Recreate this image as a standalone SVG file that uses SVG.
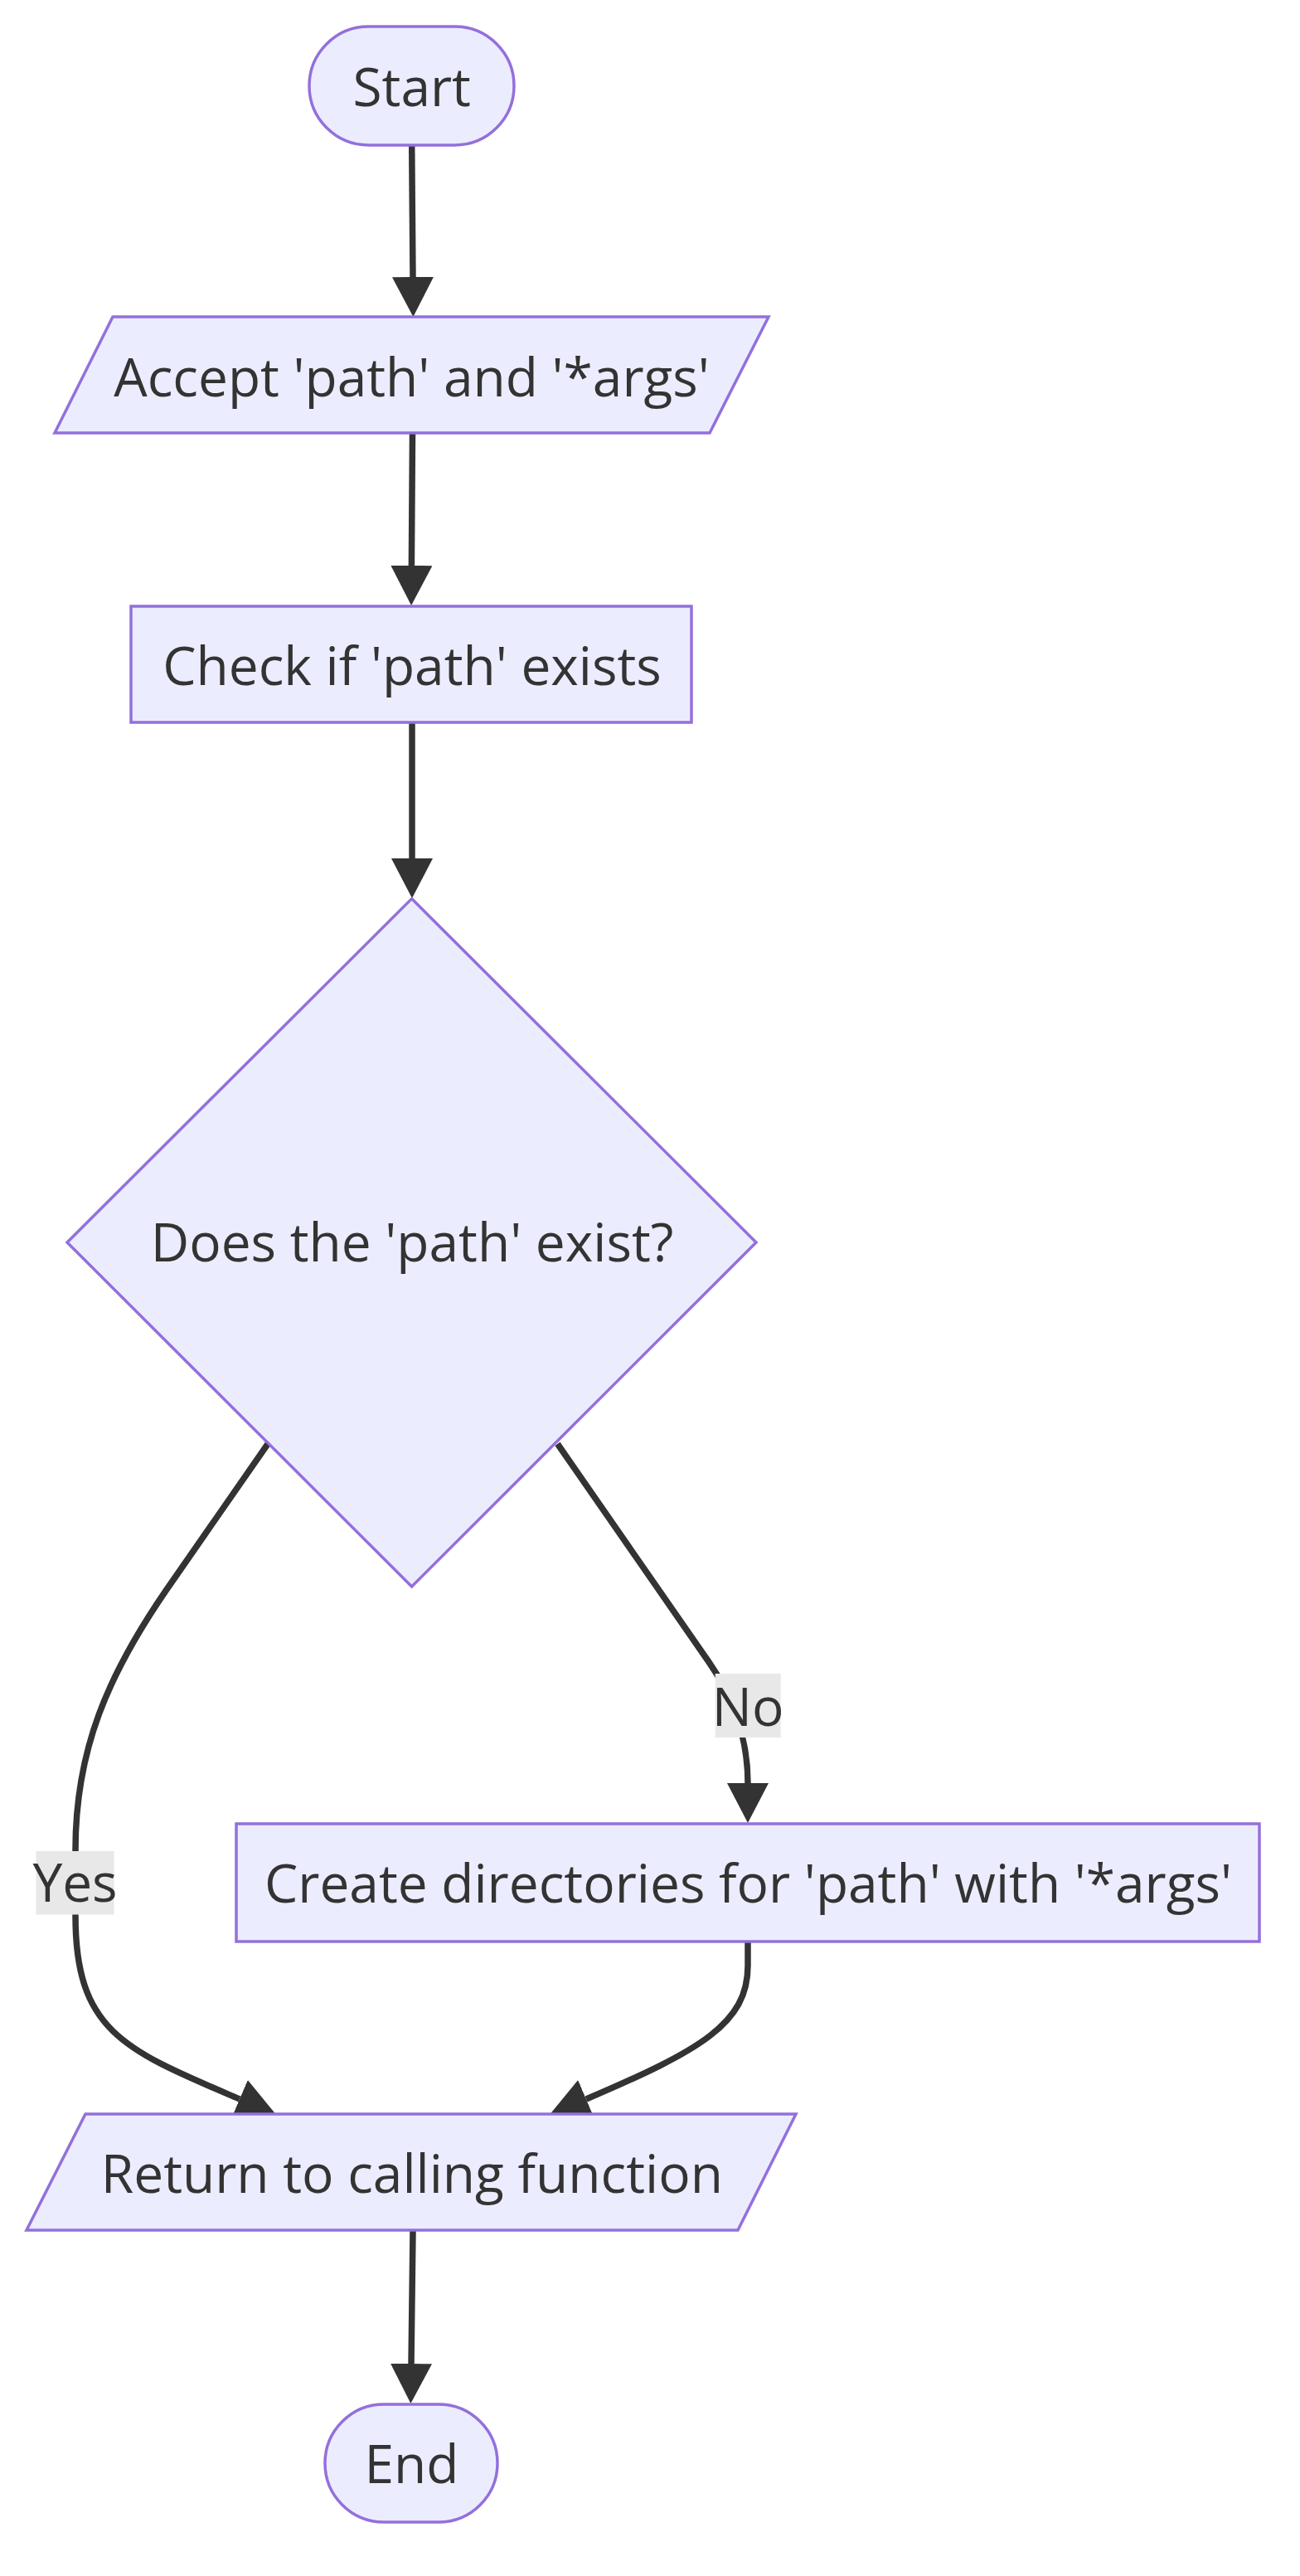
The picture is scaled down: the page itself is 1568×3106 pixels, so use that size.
<svg xmlns="http://www.w3.org/2000/svg" width="1568" height="3106" viewBox="0 0 1568 3106">
<style>
.node{fill:#ECECFF;stroke:#9370DB;stroke-width:3.5;}
.lbl{font-family:"Open Sans","Liberation Sans",sans-serif;font-size:64px;fill:#333333;text-anchor:middle;}
.edge{fill:none;stroke:#333333;stroke-width:7.5;}
.elbg{fill:#e8e8e8;}
</style>
<defs>
<marker id="arrow" viewBox="0 0 48 50" refX="0" refY="25" markerWidth="48" markerHeight="50" markerUnits="userSpaceOnUse" orient="auto">
<path d="M0,0 L48,25 L0,50 z" fill="#333333"/>
</marker>
</defs>
<rect width="1568" height="3106" fill="#ffffff"/>
<g id="connectors">
<path class="edge" d="M496.7,175 L498,334" marker-end="url(#arrow)"/>
<path class="edge" d="M497.5,522 L496.4,682" marker-end="url(#arrow)"/>
<path class="edge" d="M497,871 L497,1035" marker-end="url(#arrow)"/>
<path class="edge" d="M323,1741 L200,1918 C130,2020 91,2110 91,2230 L91,2310 C91,2450 151,2472 289,2531" marker-end="url(#arrow)"/>
<path class="edge" d="M672.5,1741 L855,2004 C880,2040 902,2090 902,2150" marker-end="url(#arrow)"/>
<path class="edge" d="M902,2341 L902,2370 C902,2440 845,2472 707,2531" marker-end="url(#arrow)"/>
<path class="edge" d="M498,2690 L496,2850" marker-end="url(#arrow)"/>
<g id="label-yes">
<rect class="elbg" x="43.5" y="2232" width="94" height="76.5"/>
<text class="lbl" x="90.5" y="2293">Yes</text>
</g>
<g id="label-no">
<rect class="elbg" x="862.7" y="2018" width="79" height="77"/>
<text class="lbl" x="902.2" y="2081">No</text>
</g>
</g>
<g id="start">
<rect class="node" x="373" y="32" width="247" height="143" rx="71.5" ry="71.5"/>
<text class="lbl" x="496.7" y="128">Start</text>
</g>
<g id="accept">
<polygon class="node" points="136,382 927,382 856,522 66,522"/>
<text class="lbl" x="496.5" y="477.5">Accept 'path' and '*args'</text>
</g>
<g id="check">
<rect class="node" x="158" y="731" width="676" height="140"/>
<text class="lbl" x="497" y="826">Check if 'path' exists</text>
</g>
<g id="decision">
<polygon class="node" points="496.6,1083.6 912,1498 496.6,1913 81,1498"/>
<text class="lbl" x="497" y="1521">Does the 'path' exist?</text>
</g>
<g id="create">
<rect class="node" x="285" y="2199" width="1234" height="142"/>
<text class="lbl" x="902.5" y="2293.5">Create directories for 'path' with '*args'</text>
</g>
<g id="return">
<polygon class="node" points="103,2549 960,2549 890,2689 32,2689"/>
<text class="lbl" x="496.8" y="2643.5">Return to calling function</text>
</g>
<g id="end">
<rect class="node" x="392" y="2899" width="208" height="142" rx="71" ry="71"/>
<text class="lbl" x="496.5" y="2994">End</text>
</g>
</svg>
